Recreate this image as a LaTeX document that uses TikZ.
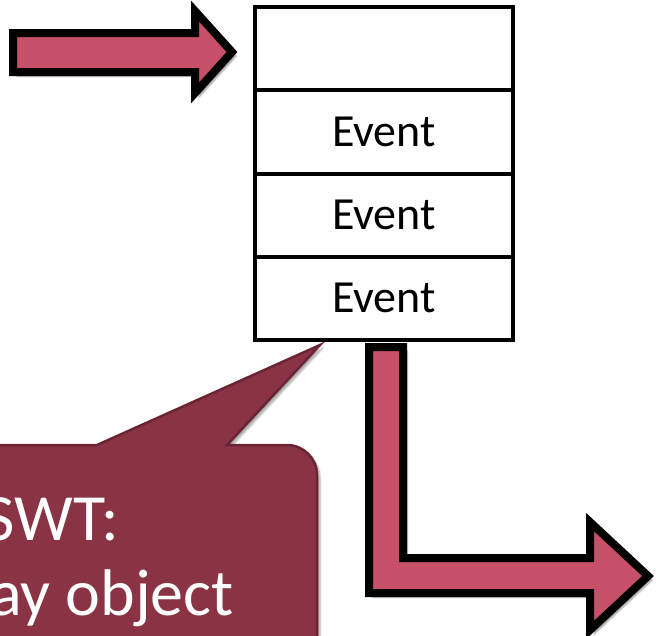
\documentclass[tikz,border=0pt]{standalone}
\usepackage{fontspec}
\setmainfont{Carlito}
\usetikzlibrary{shadows.blur}
\definecolor{arrowred}{RGB}{197,80,103}
\definecolor{calloutfill}{RGB}{138,51,68}
\definecolor{calloutline}{RGB}{106,36,52}
\tikzset{
  fatarrow/.style={draw=black, line width=8pt, fill=arrowred, line join=miter,
    blur shadow={shadow xshift=4pt, shadow yshift=-4pt, shadow blur steps=6, shadow opacity=45}},
  cell/.style={draw=black, line width=4pt, minimum width=258pt, minimum height=83.25pt,
    inner sep=0pt, outer sep=0pt, font=\fontsize{46}{50}\selectfont, anchor=north},
  callout/.style={draw=calloutline, line width=2.5pt, fill=calloutfill,
    blur shadow={shadow xshift=3pt, shadow yshift=-3pt, shadow blur steps=5, shadow opacity=35}},
  callouttext/.style={text=white, inner sep=0pt, anchor=base east, font=\fontsize{66}{76}\selectfont}
}
\begin{document}
\begin{tikzpicture}[x=1pt,y=-1pt]
\useasboundingbox (0,0) rectangle (656,635);
\clip (0,0) rectangle (656,635);
% queue
\node[cell] (q0) at (384,7) {};
\node[cell] (q1) at (q0.south) {Event};
\node[cell] (q2) at (q1.south) {Event};
\node[cell] (q3) at (q2.south) {Event};
% incoming arrow
\path[fatarrow] (13,33) -- (195,33) -- (195,11) -- (232,52) -- (195,93) -- (195,72) -- (13,72) -- cycle;
% outgoing L arrow
\path[fatarrow] (369,347) -- (403,347) -- (403,558) -- (590,558) -- (590,522) -- (648,576)
  -- (590,630) -- (590,593) -- (369,593) -- cycle;
% callout
\coordinate (tip) at (320,345);
\path[callout] (-20,445) -- (97,445) -- (tip) -- (227,445) [rounded corners=30pt] -- (317,445)
  [sharp corners] -- (317,660) -- (-20,660) -- cycle;
\node[callouttext] (t1) at (119,540) {SWT:};
\node[callouttext] (t2) at (234,615) {ay object};
\end{tikzpicture}
\end{document}
